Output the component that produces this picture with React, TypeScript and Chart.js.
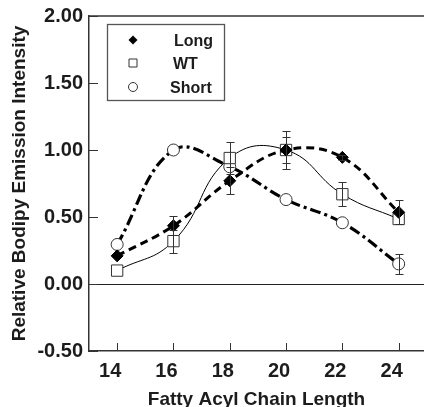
import React, { useEffect, useRef } from "react";
import { Chart, registerables } from "chart.js";

Chart.register(...registerables);

const chainLengths = [14, 16, 18, 20, 22, 24];
const longValues = [0.21, 0.435, 0.77, 1.0, 0.945, 0.535];
const longErrors = [0, 0.07, 0.1, 0.1, 0.02, 0.09];
const wtValues = [0.1, 0.32, 0.94, 1.0, 0.67, 0.485];
const wtErrors = [0, 0.085, 0.12, 0.14, 0.09, 0];
const shortValues = [0.295, 1.0, 0.875, 0.63, 0.457, 0.15];
const shortErrors = [0, 0, 0, 0, 0, 0.075];
const xTicks = [14, 16, 18, 20, 22, 24];
const yTicks = [-0.5, 0, 0.5, 1, 1.5, 2];
const seriesNames = ["Long", "WT", "Short"];
const xTitle = "Fatty Acyl Chain Length";
const yTitle = "Relative Bodipy Emission Intensity";

const FONT = "'Liberation Sans', Arial, Helvetica, sans-serif";
const INK = "#1c1c1c";
const errorSets = [longErrors, wtErrors, shortErrors];

function drawMarker(ctx: CanvasRenderingContext2D, kind: string, x: number, y: number, r: number) {
  ctx.beginPath();
  if (kind === "diamond") {
    ctx.moveTo(x, y - r);
    ctx.lineTo(x + r, y);
    ctx.lineTo(x, y + r);
    ctx.lineTo(x - r, y);
    ctx.closePath();
    ctx.fillStyle = "#000";
    ctx.fill();
  } else if (kind === "square") {
    ctx.rect(x - r, y - r, 2 * r, 2 * r);
    ctx.fillStyle = "#fff";
    ctx.fill();
    ctx.strokeStyle = "#333";
    ctx.lineWidth = 1;
    ctx.stroke();
  } else {
    ctx.arc(x, y, r, 0, Math.PI * 2);
    ctx.fillStyle = "#fff";
    ctx.fill();
    ctx.strokeStyle = "#333";
    ctx.lineWidth = 1;
    ctx.stroke();
  }
}

const decor = {
  id: "decor",
  beforeDatasetsDraw(chart: any) {
    const { ctx, chartArea, scales } = chart;
    const y0 = scales.y.getPixelForValue(0);
    ctx.save();
    ctx.strokeStyle = "#222";
    ctx.lineWidth = 1;
    ctx.beginPath();
    ctx.moveTo(chartArea.left, Math.round(y0) + 0.5);
    ctx.lineTo(chartArea.right, Math.round(y0) + 0.5);
    ctx.stroke();
    ctx.strokeStyle = "#333";
    ctx.lineWidth = 1.5;
    ctx.beginPath();
    ctx.moveTo(chartArea.left, chartArea.top);
    ctx.lineTo(chartArea.right, chartArea.top);
    ctx.stroke();
    ctx.lineWidth = 1;
    ctx.strokeStyle = "#333";
    xTicks.forEach((v) => {
      const px = Math.round(scales.x.getPixelForValue(v)) + 0.5;
      ctx.beginPath();
      ctx.moveTo(px, chartArea.bottom);
      ctx.lineTo(px, chartArea.bottom - 8);
      ctx.stroke();
    });
    yTicks.forEach((v) => {
      const py = Math.round(scales.y.getPixelForValue(v)) + 0.5;
      ctx.beginPath();
      ctx.moveTo(chartArea.left, py);
      ctx.lineTo(chartArea.left + 9, py);
      ctx.stroke();
    });
    ctx.restore();
  },
  afterDatasetsDraw(chart: any) {
    const { ctx, scales } = chart;
    ctx.save();
    ctx.strokeStyle = "#333";
    ctx.lineWidth = 1;
    chart.data.datasets.forEach((ds: any, i: number) => {
      const errs = errorSets[i];
      ds.data.forEach((p: any, j: number) => {
        const e = errs[j];
        if (!e) return;
        const px = Math.round(scales.x.getPixelForValue(p.x)) + 0.5;
        const top = Math.round(scales.y.getPixelForValue(p.y + e)) + 0.5;
        const bot = Math.round(scales.y.getPixelForValue(p.y - e)) + 0.5;
        ctx.beginPath();
        ctx.moveTo(px, top);
        ctx.lineTo(px, bot);
        ctx.moveTo(px - 4, top);
        ctx.lineTo(px + 4, top);
        ctx.moveTo(px - 4, bot);
        ctx.lineTo(px + 4, bot);
        ctx.stroke();
      });
    });
    ctx.restore();
  },
  afterDraw(chart: any) {
    const { ctx } = chart;
    ctx.save();
    ctx.strokeStyle = "#555";
    ctx.lineWidth = 1.3;
    ctx.strokeRect(107.5, 24.5, 117, 76);
    const kinds = ["diamond", "square", "circle"];
    const rows = [41, 64, 88];
    const textX = [174, 173, 170];
    const sizes = [4.5, 4, 4.5];
    ctx.font = `bold 16px ${FONT}`;
    ctx.textBaseline = "middle";
    ctx.textAlign = "left";
    seriesNames.forEach((name, i) => {
      drawMarker(ctx, kinds[i], 133, rows[i] - 1, sizes[i]);
      ctx.fillStyle = INK;
      ctx.fillText(name, textX[i], rows[i] + 1);
    });
    ctx.restore();
  },
};

export default function App() {
  const ref = useRef<HTMLCanvasElement | null>(null);
  useEffect(() => {
    if (!ref.current) return;
    const mk = (arr: number[]) => chainLengths.map((x, i) => ({ x, y: arr[i] }));
    const chart = new Chart(ref.current, {
      type: "line",
      data: {
        datasets: [
          {
            label: seriesNames[0],
            data: mk(longValues),
            borderColor: "#000",
            borderWidth: 3,
            borderDash: [8, 5],
            tension: 0.4,
            pointStyle: "rectRot",
            pointRadius: 6,
            pointBackgroundColor: "#000",
            pointBorderColor: "#000",
            pointBorderWidth: 1,
            fill: false,
          },
          {
            label: seriesNames[1],
            data: mk(wtValues),
            borderColor: "#000",
            borderWidth: 1,
            tension: 0.45,
            pointStyle: "rect",
            pointRadius: 8,
            pointBackgroundColor: "#fff",
            pointBorderColor: "#333",
            pointBorderWidth: 1,
            fill: false,
          },
          {
            label: seriesNames[2],
            data: mk(shortValues),
            borderColor: "#000",
            borderWidth: 3.2,
            borderDash: [11, 4, 3, 4],
            tension: 0.4,
            pointStyle: "circle",
            pointRadius: 6,
            pointBackgroundColor: "#fff",
            pointBorderColor: "#333",
            pointBorderWidth: 1,
            fill: false,
          },
        ],
      },
      options: {
        animation: false,
        responsive: false,
        maintainAspectRatio: false,
        layout: { autoPadding: false, padding: { top: 16, right: 0, left: 0, bottom: 0 } },
        plugins: { legend: { display: false }, tooltip: { enabled: false } },
        scales: {
          x: {
            type: "linear",
            min: 13,
            max: 24.9,
            afterBuildTicks: (s: any) => {
              s.ticks = xTicks.map((v) => ({ value: v }));
            },
            afterFit: (s: any) => {
              s.height = 56;
              s.paddingLeft = 0;
              s.paddingRight = 0;
            },
            grid: { display: false, drawTicks: false },
            border: { display: true, color: "#333", width: 1.5 },
            ticks: {
              font: { family: FONT, size: 20, weight: "bold" },
              color: INK,
              padding: 8,
              labelOffset: -7,
              maxRotation: 0,
              callback: (v: any) => String(v),
            },
            title: {
              display: true,
              text: xTitle,
              font: { family: FONT, size: 19, weight: "bold" },
              color: INK,
              padding: { top: 0, bottom: -4 },
            },
          },
          y: {
            type: "linear",
            min: -0.5,
            max: 2,
            afterBuildTicks: (s: any) => {
              s.ticks = yTicks.map((v) => ({ value: v }));
            },
            afterFit: (s: any) => {
              s.width = 89;
              s.paddingTop = 0;
              s.paddingBottom = 0;
            },
            grid: { display: false, drawTicks: false },
            border: { display: true, color: "#333", width: 1.5 },
            ticks: {
              font: { family: FONT, size: 20, weight: "bold" },
              color: INK,
              padding: 6,
              callback: (v: any) => Number(v).toFixed(2),
            },
            title: {
              display: true,
              text: yTitle,
              font: { family: FONT, size: 19, weight: "bold" },
              color: INK,
              padding: { top: 8, bottom: 0 },
            },
          },
        },
      },
      plugins: [decor],
    } as any);
    return () => chart.destroy();
  }, []);
  return (
    <div style={{ position: "absolute", left: 0, top: 0, width: 424, height: 407, background: "#fff" }}>
      <canvas ref={ref} width={424} height={407} style={{ display: "block", width: 424, height: 407 }} />
    </div>
  );
}
